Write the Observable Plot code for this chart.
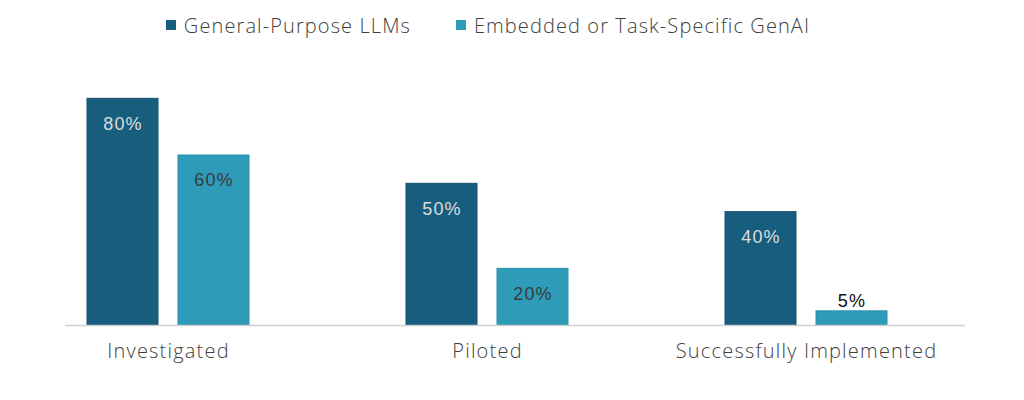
<!DOCTYPE html>
<html>
<head>
<meta charset="utf-8">
<script src="https://cdn.jsdelivr.net/npm/d3@7"></script>
<script src="https://cdn.jsdelivr.net/npm/@observablehq/plot@0.6"></script>
<style>
  html, body { margin: 0; padding: 0; background: #fff; }
  body { width: 1024px; font-family: "Open Sans", Lato, sans-serif; font-weight: 300; }
  #legend { height: 50px; display: flex; justify-content: center; align-items: center; gap: 45px; padding-right: 48px; box-sizing: border-box; font-size: 20px; letter-spacing: 1.1px; color: #404040; }
  .item { display: flex; align-items: center; gap: 8px; }
  .sw { width: 10px; height: 10px; display: inline-block; }
</style>
</head>
<body>
<div id="legend"></div>
<div id="chart"></div>
<script>
const categories = ["Investigated", "Piloted", "Successfully Implemented"];
const seriesNames = ["General-Purpose LLMs", "Embedded or Task-Specific GenAI"];
const generalValues = [80, 50, 40];
const embeddedValues = [60, 20, 5];
const colors = ["#175e7e", "#2e9cb9"];
const strokes = ["#12506e", "#2a90ac"];

const data = [];
categories.forEach((c, i) => {
  data.push({category: c, series: seriesNames[0], value: generalValues[i]});
  data.push({category: c, series: seriesNames[1], value: embeddedValues[i]});
});
const gen = data.filter(d => d.series === seriesNames[0]);
const emb = data.filter(d => d.series === seriesNames[1]);

const legend = document.getElementById("legend");
seriesNames.forEach((s, i) => {
  const it = document.createElement("div");
  it.className = "item";
  it.innerHTML = `<span class="sw" style="background:${colors[i]}"></span><span>${s}</span>`;
  legend.appendChild(it);
});

const pct = d => `${d.value}%`;

const chart = Plot.plot({
  width: 1024,
  height: 350,
  marginTop: 20,
  marginBottom: 75,
  marginLeft: 65,
  marginRight: 59,
  x: {domain: categories, range: [67, 907], paddingInner: 0.367, paddingOuter: 0, label: null, tickSize: 0, tickPadding: 18},
  y: {domain: [0, 90], axis: null},
  style: {fontFamily: "'Open Sans', Lato, sans-serif", fontWeight: 300, fontSize: "20px", letterSpacing: "1.2px", color: "#404040", background: "#fff"},
  marks: [
    Plot.barY(gen, {x: "category", y: "value", fill: colors[0], stroke: strokes[0], strokeWidth: 1, insetLeft: 20, insetRight: 111}),
    Plot.barY(emb, {x: "category", y: "value", fill: colors[1], stroke: strokes[1], strokeWidth: 1, insetLeft: 111, insetRight: 20}),
    Plot.ruleY([0], {stroke: "#d0d0d0", strokeWidth: 1.5}),
    Plot.text(gen, {x: "category", y: "value", text: pct, dx: -45.5, dy: 25, fill: "#dcdcdc", fontSize: 18, fontWeight: 400, fontFamily: "'Liberation Sans', Arial, sans-serif"}),
    Plot.text(emb.filter(d => d.value >= 10), {x: "category", y: "value", text: pct, dx: 45.5, dy: 25, fill: "#3a3a3a", fontSize: 18, fontWeight: 400, fontFamily: "'Liberation Sans', Arial, sans-serif"}),
    Plot.text(emb.filter(d => d.value < 10), {x: "category", y: "value", text: pct, dx: 45.5, dy: -10, fill: "#111", fontSize: 18, fontWeight: 400, fontFamily: "'Liberation Sans', Arial, sans-serif"})
  ]
});
chart.querySelectorAll("text").forEach(t => { if (t.closest("[aria-label='x-axis tick label']")) t.style.letterSpacing = "1.2px"; });
document.getElementById("chart").appendChild(chart);
</script>
</body>
</html>
